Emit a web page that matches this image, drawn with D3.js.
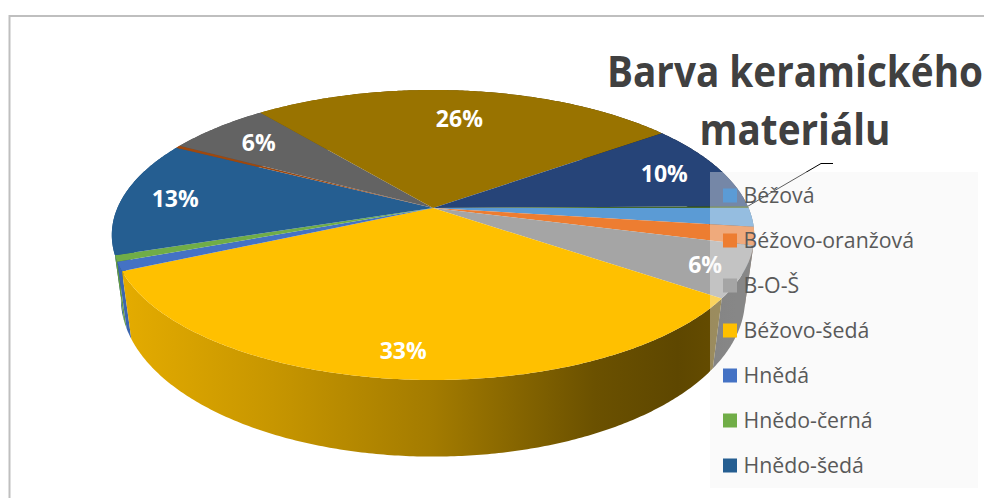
<!DOCTYPE html>
<html>
<head>
<meta charset="utf-8">
<script src="https://cdn.jsdelivr.net/npm/d3@7"></script>
<style>
html, body { margin: 0; padding: 0; background: #fff; overflow: hidden; }
svg { display: block; font-family: "Open Sans", sans-serif; }
</style>
</head>
<body>
<div id="chart"></div>
<script>
var titleLines = ["Barva keramického", "materiálu"];
// only the first seven names are visible, the legend is cut off in the picture
var legendNames = ["Béžová", "Béžovo-oranžová", "B-O-Š", "Béžovo-šedá", "Hnědá", "Hnědo-černá", "Hnědo-šedá"];
var sliceValues = [2.1, 2.0, 5.7, 33.4, 1.0, 0.7, 12.9, 0.3, 6.2, 25.7, 9.9, 0.2];
var sliceColors = ["#5b9bd5", "#ed7d31", "#a5a5a5", "#ffc000", "#4472c4", "#70ad47", "#255e91", "#9e480e", "#636363", "#997300", "#264478", "#43682b"];

var width = 984, height = 498;

// Perspective of the disc: top face and the (narrower, lower) bottom face.
var topFace = {cx: 433, cy: 208, rx: 315.6, ry: 140, k: 0.186};
var bottomFace = {cx: 433, cy: 270, rx: 307, ry: 153, k: 0.18};

// How far out on the radius each big label sits (by slice index).
var labelRadius = {2: 0.885, 3: 0.86, 6: 0.83, 8: 0.79, 9: 0.73, 10: 0.81};

function project(face, r, angle) {
	// d3.pie angles: 0 at 12 o'clock, clockwise
	var u = r * Math.sin(angle), v = -r * Math.cos(angle);
	var w = 1 - face.k * v;
	return [face.cx + face.rx * u / w, face.cy + face.ry * v / w];
}

function rim(face, a0, a1) {
	var n = Math.max(2, Math.ceil((a1 - a0) / 0.01)), pts = [];
	for (var i = 0; i <= n; i++) pts.push(project(face, 1, a0 + (a1 - a0) * i / n));
	return pts;
}

function depth(d) {
	return -Math.cos((d.startAngle + d.endAngle) / 2);
}

var line = d3.line();

var svg = d3.select("#chart").append("svg")
	.attr("width", width)
	.attr("height", height);

var defs = svg.append("defs");

var pie = d3.pie()
	.sort(null)
	.startAngle(Math.PI / 2)
	.endAngle(Math.PI / 2 + 2 * Math.PI);

var arcs = pie(sliceValues);

// frame of the chart area
svg.append("path")
	.attr("d", "M9.5," + height + "V16H" + width)
	.attr("fill", "none")
	.attr("stroke", "#bfbfbf")
	.attr("stroke-width", 2);

// Side walls, shaded left to right
var shade = [[0, 0.9], [0.25, 0.78], [0.5, 0.64], [0.75, 0.42], [0.88, 0.37], [1, 0.42]];

arcs.forEach(function(d, i) {
	var c = d3.rgb(sliceColors[i]);
	var g = defs.append("linearGradient")
		.attr("id", "wall" + i)
		.attr("gradientUnits", "userSpaceOnUse")
		.attr("x1", 112).attr("y1", 0)
		.attr("x2", 755).attr("y2", 0);
	shade.forEach(function(s) {
		g.append("stop")
			.attr("offset", s[0])
			.attr("stop-color", d3.rgb(c.r * s[1], c.g * s[1], c.b * s[1]).formatHex());
	});
});

// back to front, so the walls near the viewer end up on top
svg.append("g").selectAll("path")
	.data(arcs.slice().sort(function(a, b) { return depth(a) - depth(b); }))
	.enter().append("path")
	.attr("d", function(d) {
		var upper = rim(topFace, d.startAngle, d.endAngle);
		var lower = rim(bottomFace, d.startAngle, d.endAngle).reverse();
		return line(upper.concat(lower)) + "Z";
	})
	.attr("fill", function(d) { return "url(#wall" + d.index + ")"; });

// Top faces
svg.append("g").selectAll("path")
	.data(arcs)
	.enter().append("path")
	.attr("d", function(d) {
		return line([project(topFace, 0, 0)].concat(rim(topFace, d.startAngle, d.endAngle))) + "Z";
	})
	.attr("fill", function(d, i) { return sliceColors[i]; });

// Leader line of the thin slice, runs under the legend
var leadStart = project(topFace, 1, arcs[11].startAngle);
svg.append("path")
	.attr("d", line([leadStart, [821, 163.5], [833, 163.5]]))
	.attr("fill", "none")
	.attr("stroke", "#000")
	.attr("stroke-width", 1);

// Data labels
svg.append("g").selectAll("text")
	.data(arcs.filter(function(d) { return labelRadius[d.index] !== undefined; }))
	.enter().append("text")
	.attr("transform", function(d) {
		var p = project(topFace, labelRadius[d.index], (d.startAngle + d.endAngle) / 2);
		return "translate(" + p[0] + "," + p[1] + ")";
	})
	.attr("dy", "0.36em")
	.attr("text-anchor", "middle")
	.attr("fill", "#fff")
	.style("font-size", "23px")
	.style("font-weight", 700)
	.text(function(d) { return Math.round(d.value) + "%"; });

// Legend
svg.append("rect")
	.attr("x", 710).attr("y", 172)
	.attr("width", 268).attr("height", 316)
	.attr("fill", "#f2f2f2")
	.attr("fill-opacity", 0.39);

var legendY = d3.scalePoint()
	.domain(legendNames)
	.range([195.5, 465.5]);

var legend = svg.append("g").selectAll("g")
	.data(legendNames)
	.enter().append("g")
	.attr("transform", function(d) { return "translate(723," + legendY(d) + ")"; });

legend.append("rect")
	.attr("y", -7).attr("width", 14).attr("height", 14)
	.attr("fill", function(d, i) { return sliceColors[i]; });

legend.append("text")
	.attr("x", 20.5)
	.attr("dy", "0.36em")
	.attr("fill", "#595959")
	.style("font-size", "21.3px")
	.text(function(d) { return d; });

// Title, squeezed a little to get the narrower look of the original face
svg.append("g")
	.attr("transform", "translate(795,0) scale(0.9,1)")
	.selectAll("text")
	.data(titleLines)
	.enter().append("text")
	.attr("y", function(d, i) { return 87 + i * 58; })
	.attr("text-anchor", "middle")
	.attr("fill", "#404040")
	.style("font-size", "43px")
	.style("font-weight", 700)
	.text(function(d) { return d; });
</script>
</body>
</html>
